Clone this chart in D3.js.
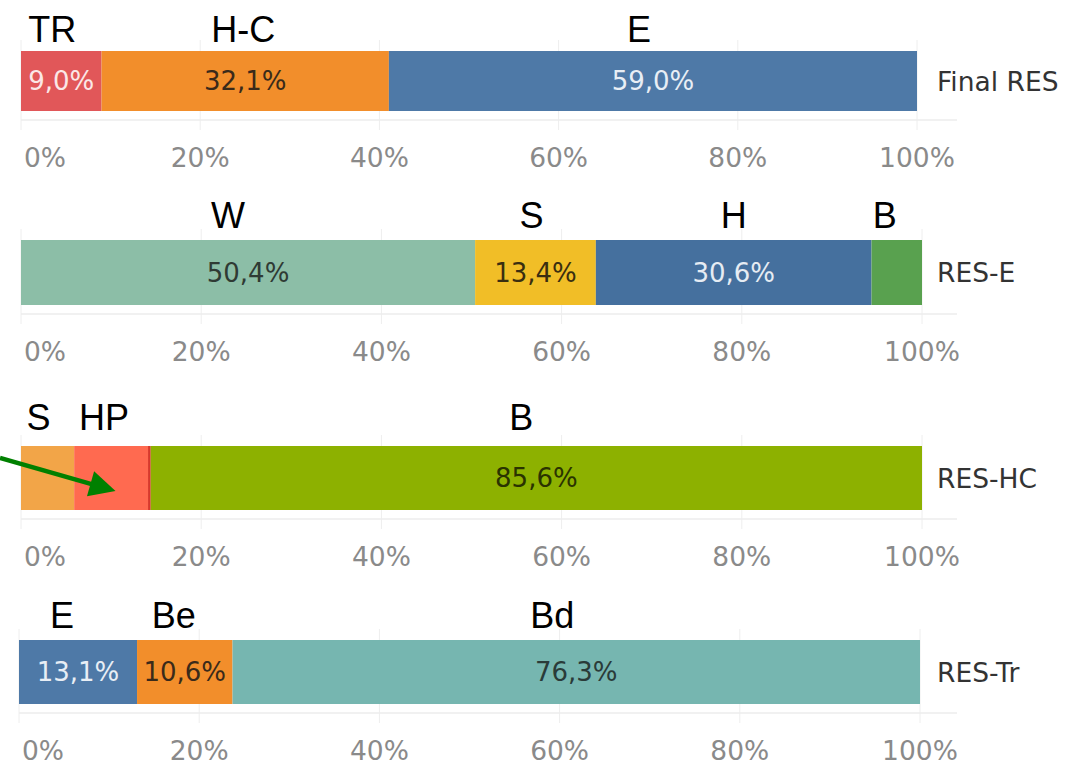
<!DOCTYPE html>
<html>
<head>
<meta charset="utf-8">
<script src="https://cdn.jsdelivr.net/npm/d3@7"></script>
<style>
  html, body { margin: 0; padding: 0; background: #fff; }
  svg { display: block; }
</style>
</head>
<body>
<svg id="chart" width="1077" height="771"></svg>
<script>
// ---- data ----
const rows = ["Final RES", "RES-E", "RES-HC", "RES-Tr"];
const finalResCats = ["TR", "H-C", "E"];
const finalResVals = [9.0, 32.1, 59.0];
const resECats = ["W", "S", "H", "B"];
const resEVals = [50.4, 13.4, 30.6, 5.6];
const resHCCats = ["S", "HP", "", "B"];
const resHCVals = [5.9, 8.2, 0.3, 85.6];
const resTrCats = ["E", "Be", "Bd"];
const resTrVals = [13.1, 10.6, 76.3];
const ticks = [0, 20, 40, 60, 80, 100];
const tickLabels = ["0%", "20%", "40%", "60%", "80%", "100%"];

// ---- styles / layout ----
const colors = {
  "Final RES": ["#E15759", "#F28E2B", "#4E79A7"],
  "RES-E": ["#8CBEA7", "#F1BE27", "#45709E", "#59A14F"],
  "RES-HC": ["#F2A548", "#FF6A50", "#D8392B", "#8DB100"],
  "RES-Tr": ["#4E79A7", "#F28E2B", "#76B6B0"]
};
const textColors = {
  "Final RES": ["#fbe7e7", "#3a2a1a", "#e8eef5"],
  "RES-E": ["#2f3a34", "#3a2e10", "#e6ecf3", "#222"],
  "RES-HC": ["#222", "#222", "#222", "#2a3300"],
  "RES-Tr": ["#e8eef5", "#3a2a1a", "#2a3b39"]
};
const panels = [
  { row: rows[0], cats: finalResCats, vals: finalResVals, shown: [true, true, true],
    top: 51, h: 60, x0: 21, x1: 917, catDx: [-9, -2, -14], catDy: -9 },
  { row: rows[1], cats: resECats, vals: resEVals, shown: [true, true, true, false],
    top: 240, h: 65, x0: 21, x1: 922, catDx: [-20, -4, 0, -12], catDy: -12 },
  { row: rows[2], cats: resHCCats, vals: resHCVals, shown: [false, false, false, true],
    top: 446, h: 64, x0: 21, x1: 922, catDx: [-9, -7, 0, -15], catDy: -16 },
  { row: rows[3], cats: resTrCats, vals: resTrVals, shown: [true, true, true],
    top: 640, h: 64, x0: 19, x1: 920, catDx: [-16, -11, -24], catDy: -12 }
];

const svg = d3.select("#chart");
const fontUI = "'DejaVu Sans', 'Noto Sans', sans-serif";
const scales = [];

panels.forEach((p, pi) => {
  const x = d3.scaleLinear().domain([0, 100]).range([p.x0, p.x1]);
  scales.push(x);
  const total = d3.sum(p.vals);
  let cum = 0;
  const segs = p.vals.map((v, i) => {
    const s = { cat: p.cats[i], v, x0: cum / total * 100, x1: (cum + v) / total * 100, i };
    cum += v;
    return s;
  });
  const g = svg.append("g");
  const axisY = p.top + p.h + 9;

  // gridlines
  g.selectAll("line.grid").data(ticks).join("line")
    .attr("x1", d => x(d)).attr("x2", d => x(d))
    .attr("y1", p.top - 11).attr("y2", axisY + 10)
    .attr("stroke", "#eeeeee").attr("stroke-width", 1);
  // axis baseline
  g.append("line")
    .attr("x1", x(0)).attr("x2", 957)
    .attr("y1", axisY).attr("y2", axisY)
    .attr("stroke", "#ececec").attr("stroke-width", 1.5);

  // bars
  g.selectAll("rect.seg").data(segs).join("rect")
    .attr("x", d => x(d.x0)).attr("width", d => x(d.x1) - x(d.x0))
    .attr("y", p.top).attr("height", p.h)
    .attr("fill", d => colors[p.row][d.i]);

  // value labels
  g.selectAll("text.val").data(segs.filter(d => p.shown[d.i])).join("text")
    .attr("x", d => (x(d.x0) + x(d.x1)) / 2)
    .attr("text-anchor", "middle")
    .attr("y", p.top + p.h / 2).attr("dy", "0.36em")
    .attr("font-family", fontUI).attr("font-size", 26)
    .attr("fill", d => textColors[p.row][d.i])
    .text(d => d3.format(".1f")(d.v).replace(".", ",") + "%");

  // category labels above
  g.selectAll("text.cat").data(segs.filter(d => d.cat)).join("text")
    .attr("x", d => (x(d.x0) + x(d.x1)) / 2 + p.catDx[d.i])
    .attr("text-anchor", "middle")
    .attr("y", p.top + p.catDy)
    .attr("font-family", "'Liberation Sans', Arial, sans-serif").attr("font-size", 36)
    .attr("fill", "#000")
    .text(d => d.cat);

  // row label
  g.append("text")
    .attr("x", 937).attr("y", p.top + p.h / 2).attr("dy", "0.36em")
    .attr("font-family", fontUI).attr("font-size", 26.5)
    .attr("fill", "#333")
    .text(p.row);

  // tick labels
  g.selectAll("text.tick").data(ticks).join("text")
    .attr("x", (d, i) => i === 0 ? x(d) + 3 : x(d))
    .attr("text-anchor", (d, i) => i === 0 ? "start" : "middle")
    .attr("y", axisY + 37).attr("dy", "0.36em")
    .attr("font-family", fontUI).attr("font-size", 26.5)
    .attr("fill", "#8a8a8a")
    .text((d, i) => tickLabels[i]);
});

// green annotation arrow pointing into the HP segment
const xHC = scales[2];
const hcTotal = d3.sum(resHCVals);
const tip = [xHC((resHCVals[0] + resHCVals[1] * 0.56) / hcTotal * 100), panels[2].top + 45];
const start = [0, panels[2].top + 12];
const dx = tip[0] - start[0], dy = tip[1] - start[1];
const len = Math.hypot(dx, dy);
const u = [dx / len, dy / len], n = [-u[1], u[0]];
const headL = 26, headW = 13;
const base = [tip[0] - u[0] * headL, tip[1] - u[1] * headL];
svg.append("line")
  .attr("x1", start[0]).attr("y1", start[1])
  .attr("x2", base[0] + u[0] * 2).attr("y2", base[1] + u[1] * 2)
  .attr("stroke", "#008000").attr("stroke-width", 4.5);
svg.append("path")
  .attr("d", d3.line()([tip, [base[0] + n[0] * headW, base[1] + n[1] * headW], [base[0] - n[0] * headW, base[1] - n[1] * headW]]) + "Z")
  .attr("fill", "#008000");
</script>
</body>
</html>
